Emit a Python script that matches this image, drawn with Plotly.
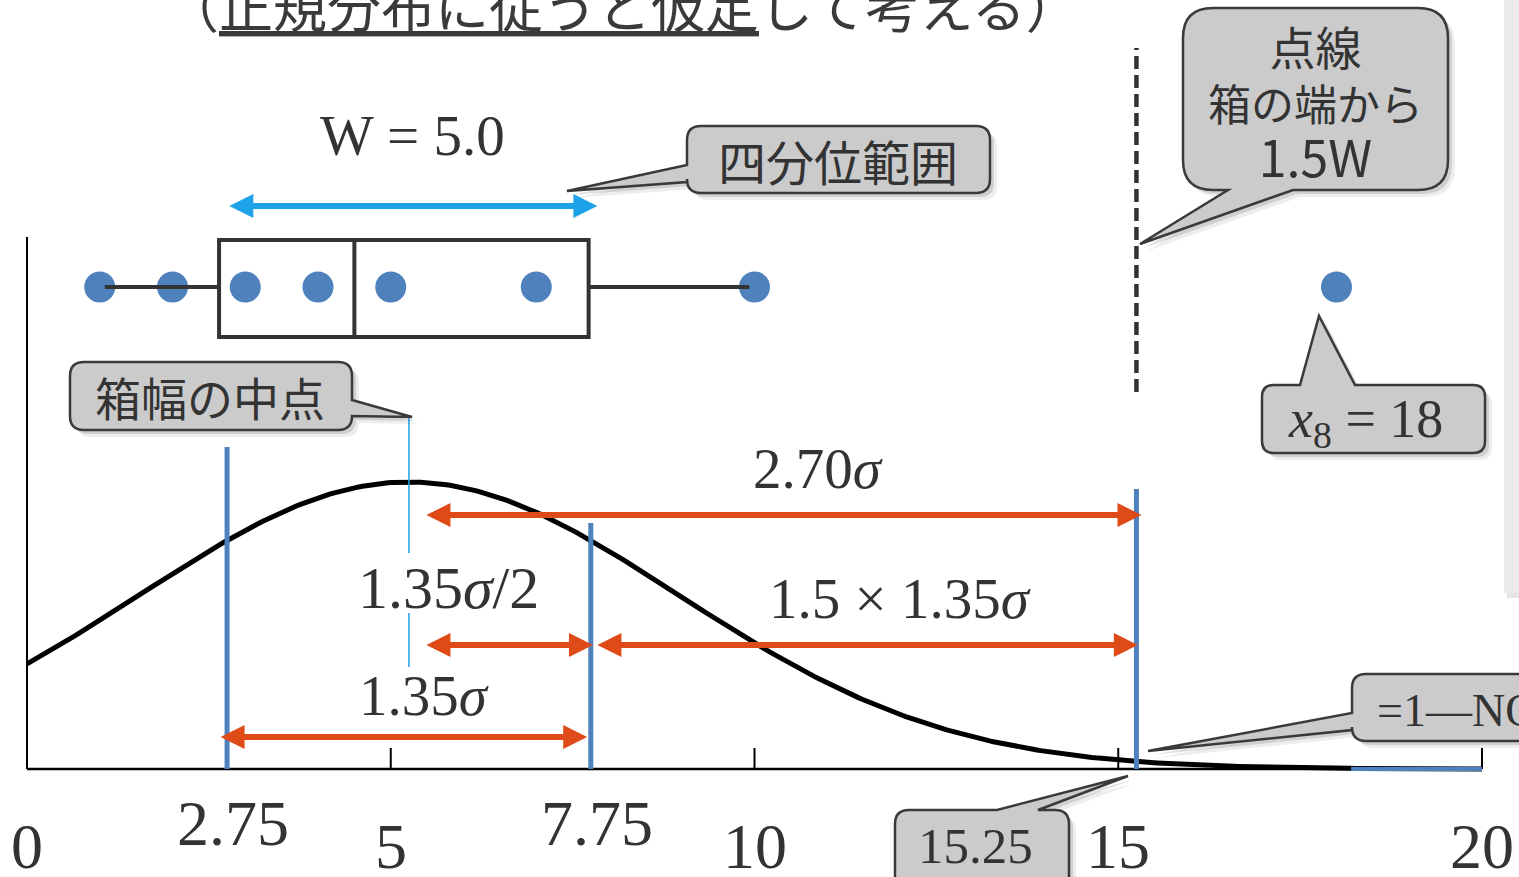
import numpy as np
import plotly.graph_objects as go

W, H = 1519, 877

# ---- data ----
values = [1, 2, 3, 4, 5, 7, 10, 18]
q1, median, q3 = 2.75, 4.5, 7.75
iqr = q3 - q1                      # W = 5.0
upper_fence = q3 + 1.5 * iqr       # 15.25
mu = (q1 + q3) / 2                 # 箱幅の中点
sigma = iqr / 1.35
tick_vals = [0, 5, 10, 15, 20]
tick_text = ['0', '5', '10', '15', '20']
marked_vals = [2.75, 7.75]
marked_text = ['2.75', '7.75']
tail_from = 18.2

# ---- pixel <-> data helpers (layout only) ----
X0_PX, PX_PER_UNIT = 27, 72.75
BASE_PX, PEAK_PX = 769, 287
peak_pdf = 1 / (sigma * np.sqrt(2 * np.pi))
k = peak_pdf / PEAK_PX


def yd(py):
    return (BASE_PX - py) * k


def xp(px):
    return px / W


def yp(py):
    return 1 - py / H


TXT = '#333333'
BLUE = '#4F81BD'
ORANGE = '#DE4B18'
SKY = '#1FA3E8'
SERIF = 'Liberation Serif'
SANS = 'Noto Sans CJK JP'

fig = go.Figure()

# normal curve
xs = np.linspace(0, 20, 400)
pdf = np.exp(-0.5 * ((xs - mu) / sigma) ** 2) * peak_pdf
fig.add_trace(go.Scatter(x=xs, y=pdf, mode='lines', line=dict(color='black', width=5), hoverinfo='skip'))

# dots of the box plot
dot_y = yd(287)
fig.add_trace(go.Scatter(x=values, y=[dot_y] * len(values), mode='markers',
                         marker=dict(size=31, color=BLUE), hoverinfo='skip'))

inside = [v for v in values if v <= upper_fence]
for a, b in [(min(inside) + 0.07, q1 - 0.11), (q3 - 0.03, max(inside) - 0.07)]:
    fig.add_trace(go.Scatter(x=[a, b], y=[dot_y, dot_y], mode='lines',
                             line=dict(color='#333333', width=4), hoverinfo='skip'))

shapes = []
# box
shapes.append(dict(type='rect', x0=q1 - 0.11, x1=q3 - 0.03, y0=yd(337), y1=yd(240),
                   line=dict(color='#333333', width=4), layer='above'))
shapes.append(dict(type='line', x0=median, x1=median, y0=yd(337), y1=yd(240),
                   line=dict(color='#333333', width=4), layer='above'))

# axes
shapes.append(dict(type='line', x0=0, x1=20, y0=0, y1=0, line=dict(color='black', width=2.5)))
shapes.append(dict(type='line', x0=0, x1=0, y0=0, y1=yd(237), line=dict(color='black', width=2)))
for t in tick_vals[1:]:
    shapes.append(dict(type='line', x0=t, x1=t, y0=0, y1=yd(748), line=dict(color='black', width=2)))

# blue markers
for v, top in [(q1, 447), (q3, 523), (upper_fence, 489)]:
    shapes.append(dict(type='line', x0=v, x1=v, y0=0, y1=yd(top), line=dict(color=BLUE, width=5), layer='above'))
shapes.append(dict(type='line', x0=tail_from, x1=20, y0=0, y1=0, line=dict(color=BLUE, width=4), layer='above'))

# dashed fence
shapes.append(dict(type='line', x0=upper_fence, x1=upper_fence, y0=yd(392), y1=yd(48),
                   line=dict(color='#333333', width=4.5, dash='13px,6px')))

# thin centre line
for a, b in [(417, 553), (613, 667)]:
    shapes.append(dict(type='line', x0=mu, x1=mu, y0=yd(b), y1=yd(a), line=dict(color=SKY, width=1.5)))

# right grey panel
shapes.append(dict(type='rect', xref='paper', yref='paper', x0=xp(1507), x1=1.0, y0=yp(598), y1=yp(0),
                   fillcolor='rgba(0,0,0,0.10)', line=dict(width=0)))
shapes.append(dict(type='rect', xref='paper', yref='paper', x0=xp(1504), x1=1.0, y0=yp(593), y1=yp(0),
                   fillcolor='#EBEBEB', line=dict(width=0)))


def callout_path(x0, y0, x1, y1, r, side, a, b, tx, ty):
    def P(x, y):
        return f'{xp(x):.5f},{yp(y):.5f}'

    d = f'M{P(x0 + r, y0)}'
    if side == 'top':
        d += f' L{P(a, y0)} L{P(tx, ty)} L{P(b, y0)}'
    d += f' L{P(x1 - r, y0)} Q{P(x1, y0)} {P(x1, y0 + r)}'
    if side == 'right':
        d += f' L{P(x1, a)} L{P(tx, ty)} L{P(x1, b)}'
    d += f' L{P(x1, y1 - r)} Q{P(x1, y1)} {P(x1 - r, y1)}'
    if side == 'bottom':
        d += f' L{P(b, y1)} L{P(tx, ty)} L{P(a, y1)}'
    d += f' L{P(x0 + r, y1)} Q{P(x0, y1)} {P(x0, y1 - r)}'
    if side == 'left':
        d += f' L{P(x0, b)} L{P(tx, ty)} L{P(x0, a)}'
    d += f' L{P(x0, y0 + r)} Q{P(x0, y0)} {P(x0 + r, y0)} Z'
    return d


callouts = [
    (687, 126, 990, 193, 14, 'left', 165, 182, 567, 191),
    (1183, 8, 1448, 190, 30, 'bottom', 1228, 1293, 1140, 244),
    (1262, 385, 1485, 453, 12, 'top', 1300, 1355, 1319, 316),
    (1352, 674, 1580, 741, 14, 'left', 713, 730, 1148, 751),
    (895, 810, 1069, 900, 14, 'top', 997, 1038, 1128, 776),
    (70, 362, 352, 430, 14, 'right', 400, 416, 412, 417),
]
for c in callouts:
    x0, y0, x1, y1, r, side, a, b, tx, ty = c
    for off, alpha in [(7, 0.07), (4, 0.12)]:
        shapes.append(dict(type='path', xref='paper', yref='paper', layer='above',
                           path=callout_path(x0 + off, y0 + off, x1 + off, y1 + off, r, side,
                                             a + off, b + off, tx + off, ty + off),
                           fillcolor=f'rgba(0,0,0,{alpha})', line=dict(width=0)))
    shapes.append(dict(type='path', xref='paper', yref='paper', layer='above',
                       path=callout_path(x0, y0, x1, y1, r, side, a, b, tx, ty),
                       fillcolor='#CBCBCB', line=dict(color='#3A3A3A', width=2.5)))

annotations = []


def label(text, px, py, size, family=SERIF, color=TXT, **kw):
    annotations.append(dict(text=text, xref='paper', yref='paper', x=xp(px), y=yp(py),
                            showarrow=False, font=dict(family=family, size=size, color=color),
                            xanchor=kw.pop('xanchor', 'center'), yanchor='middle', **kw))


# arrows
arrows = [
    (mu + 0.22, upper_fence + 0.07, 515, ORANGE),
    (mu + 0.22, q3 + 0.03, 645, ORANGE),
    (q3 + 0.07, upper_fence + 0.02, 645, ORANGE),
    (q1 - 0.11, q3 - 0.05, 737, ORANGE),
    (q1 + 0.01, q3 + 0.09, 206, SKY),
]
for a, b, py, col in arrows:
    annotations.append(dict(text='', xref='x', yref='y', axref='x', ayref='y',
                            x=b, y=yd(py), ax=a, ay=yd(py), showarrow=True,
                            arrowhead=2, startarrowhead=2, arrowside='end+start',
                            arrowsize=0.8, startarrowsize=0.8, arrowwidth=6, arrowcolor=col,
                            standoff=0, startstandoff=0))

# tick labels
for v, t in zip(tick_vals, tick_text):
    label(t, X0_PX + v * PX_PER_UNIT, 846, 64)
for v, t in zip(marked_vals, marked_text):
    label(t, X0_PX + v * PX_PER_UNIT + 6, 823, 64)

# math labels
label('W = 5.0', 412, 136, 57)
label('2.70<i>σ</i>', 818, 468, 57)
label('1.35<i>σ</i>/2', 448, 588, 60)
label('1.5 × 1.35<i>σ</i>', 900, 598, 57)
label('1.35<i>σ</i>', 424, 695, 57)

# callout texts
label('四分位範囲', 838, 160, 48, SANS)
label('<span style="font-size:46px">点線</span><br>箱の端から<br>'
      '<span style="font-size:50px">1.5W</span>', 1315, 101, 43, SANS)
label('箱幅の中点', 210, 396, 46, SANS)
label('<i>x</i><sub>8</sub> = 18', 1365, 422, 54)
label('=1—NO', 1375, 710, 46, xanchor='left')
label('15.25', 975, 846, 51)

# title (cut by the top edge)
label('（<u>正規分布に従うと仮定</u>して考える）', 622, 4, 54, SANS, color='#3A3A3A')

fig.update_layout(
    width=W, height=H, margin=dict(l=0, r=0, t=0, b=0),
    paper_bgcolor='white', plot_bgcolor='white', showlegend=False,
    xaxis=dict(range=[-X0_PX / PX_PER_UNIT, (W - X0_PX) / PX_PER_UNIT], visible=False, fixedrange=True),
    yaxis=dict(range=[yd(H), yd(0)], visible=False, fixedrange=True),
    shapes=shapes, annotations=annotations,
)

fig.write_html('out.html', config={'displayModeBar': False},
               post_script="document.body.style.margin='0';document.body.style.overflow='hidden';")
